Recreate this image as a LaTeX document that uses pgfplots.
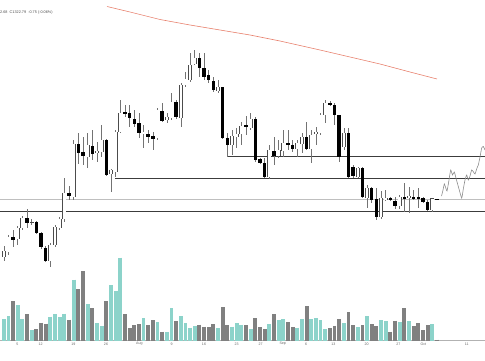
\documentclass[border=0pt]{standalone}
\usepackage{fontspec}
\setmainfont{Liberation Sans}
\usepackage{pgfplots}
\usepackage{pgfplotstable}
\pgfplotsset{compat=1.18}
\definecolor{volup}{HTML}{8CD3CA}
\definecolor{voldn}{HTML}{808080}
\definecolor{maline}{HTML}{E8826F}
\definecolor{lvl}{HTML}{3C3C3C}

% candles in screen units: o,h,l,c measured downward from top (px), v = volume height (px)
\pgfplotstableread{
j o h l c v
0 257 246 261 251 21.7
1 252 235 255 237 24.7
2 237 230 247 240 39.7
3 239 226 245 228 35.3
4 228 216 230 218 21.7
5 218 209 228 223 26.3
6 222.5 219 225 222 10.3
7 222 221 234 233 11.7
8 233 232 249 247 18
9 248 246 262 261 17
10 261 243 267 245 24
11 245 225 247 227 26.3
12 228 217 230 219 23.3
13 219 178 222 193 27
14 193 186 200 196 21
15 197 140 200 144 61
16 144 133 164 153 51.7
17 152 137 165 156 69.7
18 157 133 168 145 36.7
19 146 130 160 154 32.3
20 153 142 162 151 17.3
21 152 125 157 140 14.7
22 140 139 176 175 39.7
23 174 169 192 170 55.3
24 172 130 177 132 50
25 132 100 133 113 83
26 112 105 117 114 26.7
27 113 105 127 118 12.3
28 119 110 127 124 15.7
29 123 113 138 133 16.3
30 134 125 148 132 22.7
31 134 130 143 137 15.3
32 136 132 150 139 20.3
33 138 108 140 110 18.7
34 111 103 122 121 9
35 120 113 123 117 8.3
36 118 93 120 102 32.3
37 102 100 119 117 19.3
38 118 83 127 85 24.7
39 85 72 87 79 17.3
40 80 53 82 65 13
41 64 50 65 58 14.7
42 58 53 77 68 16
43 68 53 80 77 14
44 75 70 83 80 13.7
45 81 77 92 90 16.7
46 91 80 93 87 12.7
47 87 87 139 138 33.3
48 138 133 157 145 15.3
49 145 130 155 136 14
50 137 128 148 134 17.3
51 134 122 145 126 16
52 125 116 135 127 15.3
53 128 113 130 119 11.7
54 119 117 162 160 22.3
55 159 158 164 163 13.3
56 163 158 178 177 11.7
57 177 145 179 150 16.7
58 151 137 165 156 26.3
59 156 140 158 150 20.7
60 151 130 157 143 21.7
61 143 130 150 145 18.3
62 145 140 152 149 13.3
63 149 140 157 143 13
64 144 133 153 137 21.7
65 137 122 150 149 34.3
66 149 130 163 135 21.3
67 134 127 145 132 22.3
68 133 113 135 115 20.3
69 115 100 123 103 11.3
70 103 101 106 105 12.7
71 105 103 125 115 15
72 115 115 162 157 21.7
73 147 128 150 133 17.7
74 133 128 178 177 28.3
75 167 165 178 176 15.3
76 177 167 178 168 13.7
77 168 167 198 197 15.7
78 198 185 208 188 24.3
79 188 187 203 200 16.3
80 199 188 220 217 14.7
81 217 191 219 198 20.7
82 199 190 201 198 19.7
83 198 197 201 200 9
84 201 197 209 206 20
85 206 195 209 197 18.7
86 197 183 212 198 32.3
87 198 187 213 196 19.7
88 197 190 200 198 14.7
89 197 188 208 198 17.3
90 198 197 203 202 10.7
91 202 200 211 210 15.3
92 210 198 212 198.5 16.3
93 199 199 199.6 199.3 1
}\candles

\pgfplotstableread{
x y
107 353.5
130 348
160 340.5
190 335
220 330
250 325
280 319
320 310
350 303
380 296
410 288
437 281
}\maline

\pgfplotstableread{
x y
441.5 164
443 170
444.3 176
445.5 173
447 169
449 180
450.7 190
452.5 185
454.3 188
456.5 180
459 171
461.7 162
463.3 171
465 180
466.7 185
468.3 180
470 184
471.7 190
473.5 188
475 186
477 192
478.3 195
480 203
481.7 212
483.3 213.5
485 210
}\squiggle

\pgfplotsset{
  cbar/.style n args={2}{draw=none, mark=none,
    error bars/y dir=#1, error bars/y explicit, error bars/error mark=none,
    error bars/error bar style={#2}},
}

\begin{document}
\begin{tikzpicture}
\useasboundingbox (0,0) rectangle (485pt,360pt);
\begin{axis}[
  at={(0,0)}, anchor=south west,
  scale only axis, width=485pt, height=360pt,
  xmin=0, xmax=485, ymin=0, ymax=360,
  axis line style={draw=none},
  ytick=\empty,
  major tick length=0pt,
  xtick={17.3,40.7,73.3,106,139.3,171.7,204,236.7,260.7,282.7,306,333.3,366.7,398.3,423.3,466.7},
  xticklabels={5,12,19,26,Aug,9,16,23,27,Sep,6,13,20,27,Oct,11},
  xticklabel style={anchor=center, yshift=16pt, font=\fontsize{3.6}{4}\selectfont, text=black!60},
  clip=true,
]
% baseline of volume
\addplot[black!30, line width=0.5pt] coordinates {(0,19.3) (485,19.3)};
% volume bars
\addplot[restrict expr to domain={\thisrow{o}-\thisrow{c}}{0.001:1000}, cbar={minus}{draw=volup, line width=3.9pt}]
  table[x expr=3.8+4.658*\thisrow{j}, y expr=19.3+\thisrow{v}, y error minus expr=\thisrow{v}] {\candles};
\addplot[restrict expr to domain={\thisrow{o}-\thisrow{c}}{-1000:0}, cbar={minus}{draw=voldn, line width=3.9pt}]
  table[x expr=3.8+4.658*\thisrow{j}, y expr=19.3+\thisrow{v}, y error minus expr=\thisrow{v}] {\candles};
% level lines
\addplot[black!25, line width=0.5pt] coordinates {(0,160.5) (485,160.5)};
\addplot[lvl, line width=0.7pt] coordinates {(0,149) (485,149)};
\addplot[lvl, line width=0.7pt] coordinates {(115,182) (485,182)};
\addplot[lvl, line width=0.7pt] coordinates {(228,204) (485,204)};
% moving average
\addplot[maline, line width=0.6pt] table[x=x, y=y] {\maline};
% hand-drawn path
\addplot[black!45, line width=0.6pt, smooth, tension=0.3] table[x=x, y=y] {\squiggle};
% wicks
\addplot[cbar={both}{draw=black!55, line width=0.6pt}]
  table[x expr=3.8+4.658*\thisrow{j}, y expr=360-(\thisrow{h}+\thisrow{l})/2, y error expr=(\thisrow{l}-\thisrow{h})/2] {\candles};
% bearish bodies
\addplot[restrict expr to domain={\thisrow{o}-\thisrow{c}}{-1000:0}, cbar={both}{draw=black, line width=3.4pt}]
  table[x expr=3.8+4.658*\thisrow{j}, y expr=360-(\thisrow{o}+\thisrow{c})/2, y error expr={max(abs(\thisrow{o}-\thisrow{c})/2,0.4)}] {\candles};
% bullish bodies: outline then fill
\addplot[restrict expr to domain={\thisrow{o}-\thisrow{c}}{0.001:1000}, cbar={both}{draw=black!70, line width=3.9pt}]
  table[x expr=3.8+4.658*\thisrow{j}, y expr=360-(\thisrow{o}+\thisrow{c})/2, y error expr={max(abs(\thisrow{o}-\thisrow{c})/2+0.3,0.4)}] {\candles};
\addplot[restrict expr to domain={\thisrow{o}-\thisrow{c}}{0.001:1000}, cbar={both}{draw=white, line width=2.6pt}]
  table[x expr=3.8+4.658*\thisrow{j}, y expr=360-(\thisrow{o}+\thisrow{c})/2, y error expr={max(abs(\thisrow{o}-\thisrow{c})/2-0.35,0)}] {\candles};
\end{axis}
\node[anchor=west, inner sep=0pt, font=\fontsize{3.8}{4.5}\selectfont, text=black!70] at (0pt,347.6pt) {2.68\ \ C1322.79\ \ -0.75 (-0.06\%)};
\end{tikzpicture}
\end{document}
